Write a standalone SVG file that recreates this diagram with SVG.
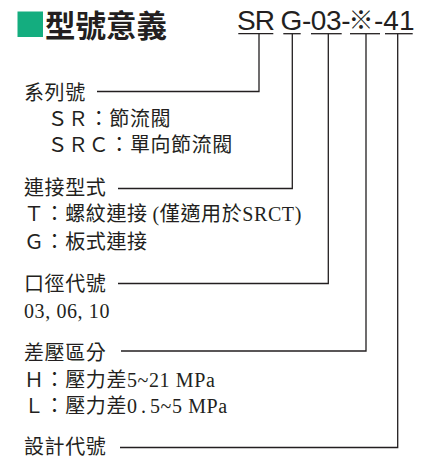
<svg xmlns="http://www.w3.org/2000/svg" width="429" height="459" viewBox="0 0 429 459">
<style>
.title{font-family:"Noto Sans CJK TC","Noto Sans CJK SC",sans-serif;font-weight:700;font-size:30.5px;fill:#231f20}
.code{font-family:"Liberation Sans",Arial,sans-serif;font-size:28px;fill:#231f20}
.cjk{font-family:"Noto Sans CJK TC","Noto Sans CJK SC",sans-serif;font-size:25px}
.t{font-family:"Liberation Serif","Noto Sans CJK TC","Noto Sans CJK SC",serif;font-size:20px;letter-spacing:0.6px;fill:#231f20}
.ln{fill:none;stroke:#231f20;stroke-width:1.3}
</style>
<g id="header">
<rect x="17.5" y="11.5" width="25.5" height="25.5" fill="#14ad7f"/>
<text class="title" x="45" y="37">型號意義</text>
</g>
<g id="model-code">
<text class="code" y="30"><tspan x="237" letter-spacing="-1">SR</tspan><tspan x="280.5" letter-spacing="-0.4">G-03-</tspan><tspan class="cjk" x="348.5" y="29">※</tspan><tspan x="374" y="30">-41</tspan></text>
<g class="ln">
<line x1="238.3" y1="33.7" x2="273.3" y2="33.7"/>
<line x1="283.3" y1="33.7" x2="300.7" y2="33.7"/>
<line x1="311" y1="33.7" x2="341.7" y2="33.7"/>
<line x1="350" y1="33.7" x2="380" y2="33.7"/>
<line x1="385" y1="33.7" x2="412.7" y2="33.7"/>
</g>
</g>
<g id="connectors" class="ln">
<path d="M259,33.7V91.5H97"/>
<path d="M292.3,33.7V188.5H118"/>
<path d="M328.3,33.7V283.5H118"/>
<path d="M366,33.7V351H121"/>
<path d="M397.7,33.7V447.5H120"/>
</g>
<g id="series">
<text class="t" x="24" y="100">系列號</text>
<text class="t" x="47.5" y="126">ＳＲ：節流閥</text>
<text class="t" x="47.5" y="152">ＳＲＣ：單向節流閥</text>
</g>
<g id="connection">
<text class="t" x="24" y="194.5">連接型式</text>
<text class="t" x="24" y="220.5">Ｔ：螺紋連接<tspan dx="5">(僅適用於SRCT)</tspan></text>
<text class="t" x="24" y="248.5">Ｇ：板式連接</text>
</g>
<g id="port-size">
<text class="t" x="24" y="290.5">口徑代號</text>
<text class="t" x="24" y="318">03, 06, 10</text>
</g>
<g id="pressure">
<text class="t" x="24" y="359.5">差壓區分</text>
<text class="t" x="24" y="386.5">Ｈ：壓力差5~21 MPa</text>
<text class="t" x="24" y="413">Ｌ：壓力差<tspan letter-spacing="4">0.</tspan>5~5 MPa</text>
</g>
<g id="design">
<text class="t" x="24" y="454">設計代號</text>
</g>
</svg>
